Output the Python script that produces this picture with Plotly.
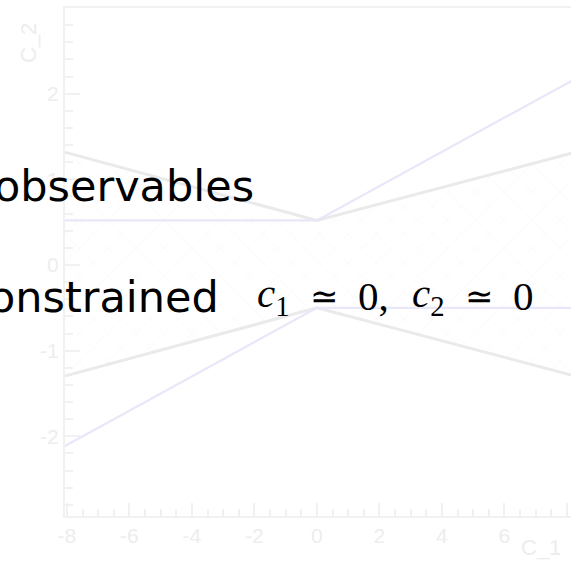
import plotly.graph_objects as go

# Constraint boundaries in the (c_1, c_2) plane, sampled at the frame edges and at c_1 = 0
c1_nodes = [-8.2, 0.0, 8.2]
gray_upper = [1.33, 0.52, 1.31]
gray_lower = [-1.31, -0.50, -1.29]
blue_upper = [0.52, 0.52, 2.16]
blue_lower = [-2.14, -0.50, -0.50]

x_ticks = [-8, -6, -4, -2, 0, 2, 4, 6, 8]
y_ticks = [-2, -1, 0, 1, 2]

W, H = 571, 561
L, R, T, B = 65, 0, 8, 45
PW, PH = W - L - R, H - T - B

GRAY = "rgb(234,234,234)"
BLUE = "rgb(231,231,249)"
AXIS = "rgb(241,241,241)"
LABEL = "rgb(237,237,237)"

fig = go.Figure()

# hatched allowed band between the two gray boundaries
fig.add_trace(go.Scatter(
    x=c1_nodes + c1_nodes[::-1],
    y=gray_upper + gray_lower[::-1],
    fill="toself", mode="none",
    fillcolor="rgba(255,255,255,0)",
    fillpattern=dict(shape="x", fgcolor="rgb(241,241,241)", bgcolor="rgba(255,255,255,0)",
                     size=20, solidity=0.07),
    hoverinfo="skip", showlegend=False,
))

for ys, col, w in [(gray_upper, GRAY, 3), (gray_lower, GRAY, 3),
                   (blue_upper, BLUE, 2.2), (blue_lower, BLUE, 2.2)]:
    fig.add_trace(go.Scatter(x=c1_nodes, y=ys, mode="lines",
                             line=dict(color=col, width=w),
                             hoverinfo="skip", showlegend=False))


def px_x(p):
    return (p - L) / PW


def px_y(p):
    return 1 - (p - T) / PH


annotations = [
    dict(text="C_1", x=px_x(541), y=px_y(547), font=dict(size=22, color=LABEL,
         family="Liberation Sans"), xanchor="center", yanchor="middle"),
    dict(text="C_2", x=px_x(29), y=px_y(43), textangle=-90, font=dict(size=22, color=LABEL,
         family="Liberation Sans"), xanchor="center", yanchor="middle"),
    dict(text="observables", x=px_x(256), y=px_y(186), xanchor="right", yanchor="middle",
         font=dict(size=43, color="black", family="DejaVu Sans")),
    dict(text="onstrained", x=px_x(221), y=px_y(297), xanchor="right", yanchor="middle",
         font=dict(size=43, color="black", family="DejaVu Sans")),
]

# math expression pieces: c1 ≃ 0, c2 ≃ 0
math_pieces = [("<i>c</i><sub>1</sub>", 255, 41), ("≃", 308, 34), ("0,", 356, 41),
               ("<i>c</i><sub>2</sub>", 410, 41), ("≃", 463, 34), ("0", 511, 41)]
for txt, xp, fs in math_pieces:
    annotations.append(dict(text=txt, x=px_x(xp), y=px_y(296), xanchor="left", yanchor="middle",
                            font=dict(size=fs, color="black", family="Liberation Serif")))

for a in annotations:
    a.update(xref="paper", yref="paper", showarrow=False)

fig.update_layout(
    width=W, height=H,
    margin=dict(l=L, r=R, t=T, b=B),
    paper_bgcolor="white", plot_bgcolor="white",
    annotations=annotations,
    xaxis=dict(range=[-8.06, 8.13], tickvals=x_ticks, ticktext=[str(v) for v in x_ticks],
               ticks="inside", ticklen=13, tickcolor=AXIS, tickwidth=1.5,
               minor=dict(dtick=0.5, tick0=0, ticks="inside", ticklen=7, tickcolor=AXIS),
               showline=True, linecolor=AXIS, linewidth=2, mirror=True,
               showgrid=False, zeroline=False,
               tickfont=dict(family="Liberation Sans", size=21, color=LABEL)),
    yaxis=dict(range=[-2.93, 3.0], tickvals=y_ticks, ticktext=[str(v) for v in y_ticks],
               ticks="inside", ticklen=15, tickcolor=AXIS, tickwidth=1.5,
               minor=dict(dtick=0.2, tick0=0, ticks="inside", ticklen=8, tickcolor=AXIS),
               showline=True, linecolor=AXIS, linewidth=2,
               showgrid=False, zeroline=False,
               tickfont=dict(family="Liberation Sans", size=21, color=LABEL)),
)

fig.write_html("out.html")
